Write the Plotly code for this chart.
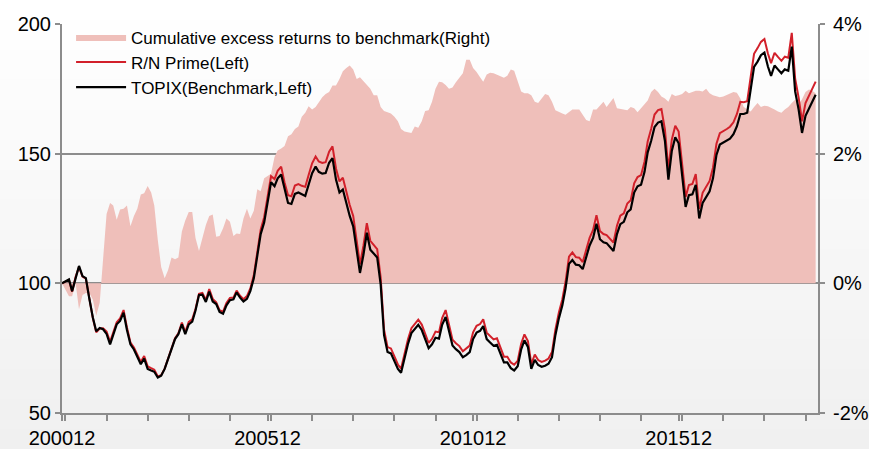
import pandas as pd
import plotly.graph_objects as go

# Monthly index levels (Dec 2000 = 100) and cumulative excess return (%)
topix = [
    100, 100.8, 101.5, 97, 102.5, 106.7, 102.8, 102, 94, 86.8,
    81.5, 82.8, 82.3, 80.5, 76.5, 80.4, 84.2, 85.5, 88.7, 82,
    76.5, 74.5, 72, 68.8, 71, 67, 66.4, 65.9, 63.7, 64.4,
    67, 70.8, 74.6, 78.5, 80.4, 84.2, 80.4, 84.2, 85.2, 89.5,
    95.5, 95.6, 92.8, 96.8, 93, 92, 89, 88.3, 91.5, 93.5,
    93.8, 96.5, 94.5, 93, 94, 97, 102, 111, 119, 123.5,
    130.5, 139, 137.5, 140.5, 142, 136, 131, 130.6, 134.5, 135,
    134.2, 133.7, 138, 142.5, 145, 143, 142.3, 142.5, 146.5, 148.3,
    140, 135, 136.2, 131, 126, 122, 112.5, 104, 111, 119.5,
    113, 111.5, 110, 99.5, 80, 73.5, 73, 70, 67, 65.5,
    71.5, 76.5, 80.8, 82.5, 84, 82, 78.5, 75, 76.5, 79,
    78.7, 84, 87, 81, 76, 74.6, 73.5, 71.5, 72.3, 73.5,
    78.5, 81, 81.7, 83.5, 78.5, 77.2, 75.9, 76.3, 73, 69.5,
    69.5, 67.3, 66.4, 68, 74.5, 78, 75.5, 67, 70.5, 68.5,
    67.8, 68.2, 69, 71.5, 80, 86.5, 91.5, 98, 107.5, 109,
    107.2, 107, 105.5, 110, 114.6, 117.5, 123, 117, 115.8, 115.5,
    114, 112.5, 119, 122.8, 123.7, 127.4, 128.5, 135, 137.4, 138,
    143, 150.5, 155, 160.3, 162, 162.5, 155, 140, 151, 156.3,
    154, 141, 129.5, 134, 134.3, 138, 125, 131, 133.5, 135.5,
    140.5, 149.5, 153.5, 154.2, 155, 155.8, 157.5, 160.5, 165.3, 165.3,
    165.8, 175, 183.5, 185.5, 188, 189, 183.6, 180, 184, 182.5,
    181, 182.5, 182, 191.3, 174, 167, 158, 164.6, 167.5, 170.3,
    172.7,
]

rn_prime = [
    100.0, 100.7, 101.3, 96.8, 102.5, 106.3, 102.6, 101.8, 93.9, 86.6,
    81.1, 82.6, 82.7, 81.4, 77.4, 81.4, 85.0, 86.5, 89.7, 83.0,
    77.2, 75.3, 72.8, 69.7, 72.0, 68.0, 67.3, 66.7, 64.1, 64.6,
    67.1, 70.9, 74.9, 78.8, 80.7, 84.9, 81.2, 85.1, 86.1, 90.1,
    96.0, 96.3, 93.6, 97.8, 94.0, 92.7, 89.6, 89.1, 92.4, 94.4,
    94.5, 97.2, 95.2, 93.9, 95.1, 98.0, 103.1, 112.6, 120.7, 125.5,
    132.7, 141.3, 140.2, 143.4, 145.0, 138.9, 134.0, 133.6, 137.7, 138.3,
    137.6, 137.2, 141.8, 146.3, 148.9, 147.0, 146.4, 146.7, 150.8, 152.8,
    144.3, 139.3, 140.7, 135.3, 130.2, 126.0, 116.0, 107.3, 114.5, 123.2,
    116.4, 114.7, 113.2, 102.2, 82.1, 75.4, 74.9, 71.8, 68.7, 67.1,
    73.2, 78.3, 82.7, 84.5, 86.0, 84.1, 80.6, 77.0, 78.6, 81.4,
    81.1, 86.6, 89.7, 83.4, 78.3, 76.9, 75.8, 73.8, 74.8, 76.0,
    81.1, 83.6, 84.3, 86.1, 81.0, 79.7, 78.4, 78.8, 75.3, 71.7,
    71.7, 69.5, 68.6, 70.1, 76.7, 80.3, 77.7, 68.9, 72.5, 70.4,
    69.7, 70.2, 71.0, 73.5, 82.1, 88.8, 93.9, 100.5, 110.3, 111.9,
    110.1, 109.9, 108.2, 112.8, 117.5, 120.6, 126.3, 120.2, 119.0, 118.6,
    117.2, 115.7, 122.2, 126.1, 127.0, 130.8, 132.0, 138.6, 141.0, 141.7,
    146.9, 154.7, 159.6, 165.1, 166.8, 167.2, 159.4, 143.9, 155.4, 160.8,
    158.5, 145.1, 133.3, 137.9, 138.3, 142.1, 128.7, 134.9, 137.5, 139.5,
    144.6, 153.8, 157.9, 158.6, 159.5, 160.4, 162.1, 165.2, 170.0, 169.8,
    170.2, 179.6, 188.5, 190.7, 193.1, 194.2, 188.6, 184.9, 188.9, 187.3,
    185.8, 187.4, 187.0, 196.6, 178.9, 171.6, 162.5, 169.5, 172.5, 175.4,
    177.8,
]

excess_pct = [
    0, -0.1, -0.2, -0.2, 0, -0.4, -0.18, -0.15, -0.15, -0.25,
    -0.5, -0.3, 0.45, 1.07, 1.24, 1.2, 0.98, 1.14, 1.15, 1.2,
    0.88, 1.04, 1.15, 1.37, 1.39, 1.5, 1.4, 1.2, 0.67, 0.25,
    0.08, 0.2, 0.4, 0.37, 0.4, 0.8, 0.97, 1.1, 1.1, 0.7,
    0.5, 0.72, 0.9, 1.04, 1.06, 0.72, 0.73, 0.85, 1.0, 0.95,
    0.73, 0.77, 0.76, 1.0, 1.15, 1.0, 1.12, 1.45, 1.42, 1.62,
    1.65, 1.69, 1.95, 2.05, 2.08, 2.12, 2.27, 2.3, 2.38, 2.42,
    2.57, 2.63, 2.73, 2.68, 2.72, 2.8, 2.87, 2.92, 2.95, 3.05,
    3.05, 3.15, 3.27, 3.32, 3.36, 3.3, 3.15, 3.18, 3.12, 3.07,
    3.0, 2.9, 2.9, 2.72, 2.66, 2.64, 2.62, 2.57, 2.5, 2.38,
    2.34, 2.33, 2.32, 2.42, 2.4, 2.5, 2.66, 2.67, 2.8, 3.0,
    3.11, 3.1, 3.06, 3.0, 3.02, 3.1, 3.17, 3.24, 3.45, 3.45,
    3.32, 3.26, 3.18, 3.11, 3.22, 3.25, 3.24, 3.22, 3.2, 3.17,
    3.2, 3.3, 3.28, 3.12, 2.96, 2.93, 2.93, 2.9, 2.8, 2.78,
    2.85, 2.92, 2.9, 2.8, 2.67, 2.64, 2.62, 2.6, 2.64, 2.68,
    2.68, 2.68, 2.6, 2.52, 2.5, 2.68, 2.68, 2.74, 2.8, 2.72,
    2.8, 2.86, 2.7, 2.69, 2.67, 2.67, 2.72, 2.7, 2.64, 2.7,
    2.76, 2.82, 2.95, 3.0, 2.95, 2.88, 2.85, 2.8, 2.92, 2.89,
    2.9, 2.92, 2.97, 2.93, 2.95, 2.97, 2.97, 2.96, 3.0, 2.93,
    2.9, 2.88, 2.87, 2.88, 2.9, 2.93, 2.95, 2.94, 2.85, 2.72,
    2.68, 2.65, 2.72, 2.78, 2.72, 2.74, 2.73, 2.7, 2.68, 2.65,
    2.63, 2.68, 2.72, 2.78, 2.83, 2.76, 2.84, 2.95, 2.99, 2.97,
    2.93,
]

# Right-hand axis tick values and their labels
pct_ticks = [-2, 0, 2, 4]
pct_labels = ["-2%", "0%", "2%", "4%"]

n = min(len(topix), len(rn_prime), len(excess_pct))
months = pd.date_range("2000-12-01", periods=n, freq="MS")

AXIS_GREY = "#8c8c8c"
FONT = "Liberation Sans, Arial, sans-serif"
W, H = 869, 449
M_L, M_R, M_T, M_B = 62, 51, 24, 36
PLOT_H = H - M_T - M_B

fig = go.Figure()

# excess-return area lives on the primary (right-hand, %) axis so it sits
# underneath the two index lines, which use the overlaying left axis
fig.add_trace(go.Scatter(
    x=months, y=excess_pct[:n], yaxis="y",
    name="Cumulative excess returns to benchmark(Right)",
    mode="lines", line=dict(width=0, color="#EFBFBA"),
    fill="tozeroy", fillcolor="#EFBFBA",
))
fig.add_trace(go.Scatter(
    x=months, y=rn_prime[:n], yaxis="y2", name="R/N Prime(Left)",
    mode="lines", line=dict(color="#D2202A", width=2),
))
fig.add_trace(go.Scatter(
    x=months, y=topix[:n], yaxis="y2", name="TOPIX(Benchmark,Left)",
    mode="lines", line=dict(color="#000000", width=2.2),
))

# soft vertical page gradient, white at the top to light grey at the bottom
bands = 45
shapes = []
top = 1 + M_T / PLOT_H
span = H / PLOT_H
for i in range(bands):
    t = i / (bands - 1)
    g = round(255 - t * 15)
    shapes.append(dict(
        type="rect", xref="paper", yref="paper", layer="below",
        x0=-0.2, x1=1.2,
        y0=top - (i + 1) * span / bands - 0.002,
        y1=top - i * span / bands,
        fillcolor=f"rgb({g},{g},{g})", line=dict(width=0),
    ))

fig.update_layout(
    width=W, height=H,
    margin=dict(l=M_L, r=M_R, t=M_T, b=M_B, autoexpand=False),
    paper_bgcolor="#ffffff",
    plot_bgcolor="rgba(0,0,0,0)",
    font=dict(family=FONT, color="#000000", size=20),
    shapes=shapes,
    showlegend=True,
    legend=dict(
        x=0.012, y=1.012, xanchor="left", yanchor="top",
        bgcolor="rgba(0,0,0,0)", font=dict(size=17, family=FONT),
        itemwidth=50, tracegroupgap=0,
    ),
    xaxis=dict(
        type="date",
        range=["2000-12-01", "2019-04-22"],
        tick0="2000-12-01", dtick="M60", tickformat="%Y%m",
        ticks="outside", ticklen=6, tickcolor=AXIS_GREY, tickwidth=1.5,
        minor=dict(dtick="M12", ticks="outside", ticklen=6,
                   tickcolor=AXIS_GREY, tickwidth=1.5, showgrid=False),
        showline=True, linecolor=AXIS_GREY, linewidth=2,
        showgrid=False, zeroline=False, automargin=False,
        tickfont=dict(size=20),
    ),
    yaxis=dict(
        range=[-2, 4], tickmode="array",
        tickvals=pct_ticks, ticktext=pct_labels, side="right",
        ticks="outside", ticklen=5, tickcolor=AXIS_GREY, tickwidth=1.5,
        ticklabelstandoff=4,
        showline=True, linecolor=AXIS_GREY, linewidth=2,
        showgrid=True, gridcolor=AXIS_GREY, gridwidth=1.5,
        zeroline=False, automargin=False, tickfont=dict(size=20),
    ),
    yaxis2=dict(
        range=[50, 200], dtick=50,
        overlaying="y", side="left",
        ticks="outside", ticklen=5, tickcolor=AXIS_GREY, tickwidth=1.5,
        showline=True, linecolor=AXIS_GREY, linewidth=2,
        showgrid=False, zeroline=False, automargin=False,
        tickfont=dict(size=20),
    ),
)

fig.write_html("out.html")
